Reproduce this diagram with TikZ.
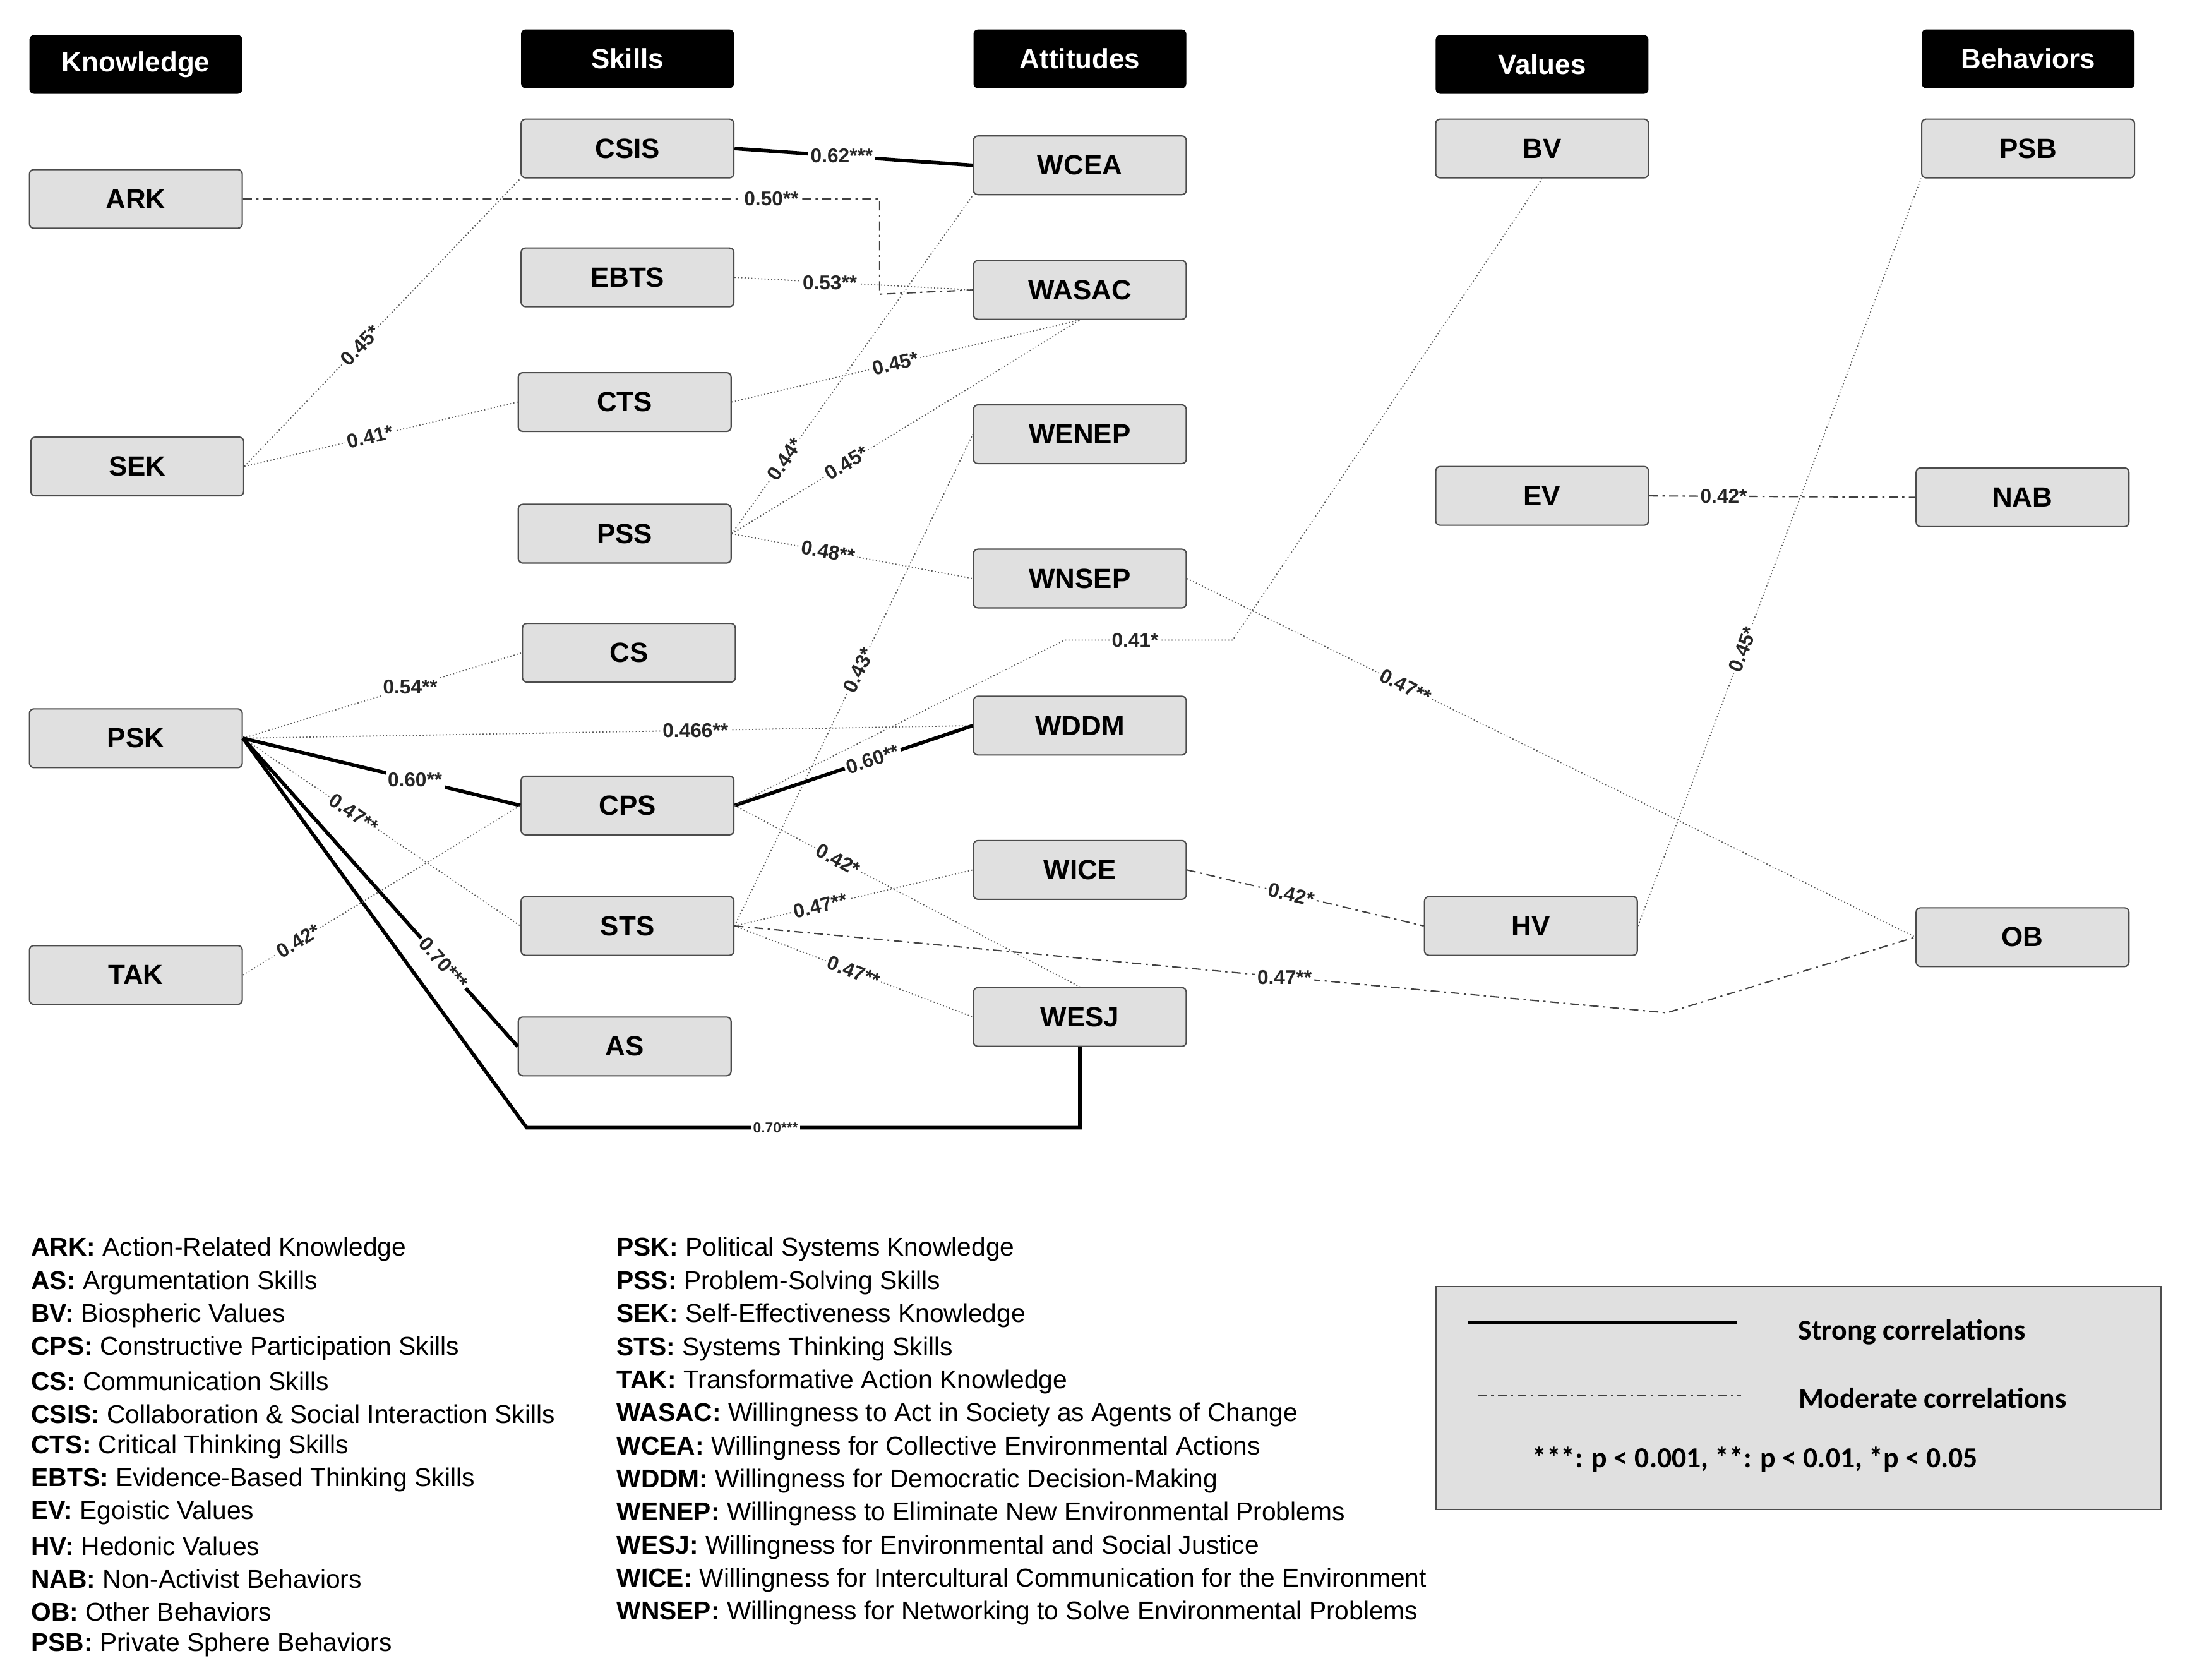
\documentclass[tikz,border=0pt]{standalone}
\usepackage{fontspec}
\setmainfont{Liberation Sans}
\newfontfamily\legfont{Carlito}
\begin{document}
\begin{tikzpicture}[x=0.2218mm,y=-0.2218mm,
 box/.style={draw=black!70,fill=black!12,rounded corners=2pt,minimum width=33.7mm,minimum height=9.3mm,font=\fontsize{12.5}{14}\selectfont\bfseries,line width=0.6pt},
 hdr/.style={fill=black,text=white,rounded corners=2pt,minimum width=33.7mm,minimum height=9.3mm,font=\fontsize{12.5}{14}\selectfont\bfseries},
 strong/.style={line width=1.6pt},
 dot/.style={densely dotted,line width=0.5pt,black!65},
 dd/.style={dash pattern=on 4pt off 2pt on 1pt off 2pt,line width=0.6pt,black!75},
 lab/.style={font=\fontsize{9}{10}\selectfont\bfseries,fill=white,inner sep=1pt,text=black!85},
 lg/.style={anchor=west,font=\fontsize{11.6}{13}\selectfont,inner sep=0pt}]
\useasboundingbox (0,0) rectangle (1560,1199);
% headers
\node[hdr] (hK) at (97,46) {Knowledge};
\node[hdr] (hS) at (448,42) {Skills};
\node[hdr] (hA) at (771,42) {Attitudes};
\node[hdr] (hV) at (1101,46) {Values};
\node[hdr] (hB) at (1448,42) {Behaviors};
% boxes
\node[box] (ARK) at (97,142) {ARK};
\node[box] (SEK) at (98,333) {SEK};
\node[box] (PSK) at (97,527) {PSK};
\node[box] (TAK) at (97,696) {TAK};
\node[box] (CSIS) at (448,106) {CSIS};
\node[box] (EBTS) at (448,198) {EBTS};
\node[box] (CTS) at (446,287) {CTS};
\node[box] (PSS) at (446,381) {PSS};
\node[box] (CS) at (449,466) {CS};
\node[box] (CPS) at (448,575) {CPS};
\node[box] (STS) at (448,661) {STS};
\node[box] (AS) at (446,747) {AS};
\node[box] (WCEA) at (771,118) {WCEA};
\node[box] (WASAC) at (771,207) {WASAC};
\node[box] (WENEP) at (771,310) {WENEP};
\node[box] (WNSEP) at (771,413) {WNSEP};
\node[box] (WDDM) at (771,518) {WDDM};
\node[box] (WICE) at (771,621) {WICE};
\node[box] (WESJ) at (771,726) {WESJ};
\node[box] (BV) at (1101,106) {BV};
\node[box] (EV) at (1101,354) {EV};
\node[box] (HV) at (1093,661) {HV};
\node[box] (PSB) at (1448,106) {PSB};
\node[box] (NAB) at (1444,355) {NAB};
\node[box] (OB) at (1444,669) {OB};
\coordinate (a1) at (628,142); \coordinate (a2) at (628,210);
\coordinate (b1) at (760,457); \coordinate (b2) at (880,457);
\coordinate (c1) at (376,805); \coordinate (c2) at (771,805);
\coordinate (d1) at (1190,723);
% connectors
\draw[strong] (CSIS.east) -- node[lab,pos=0.45]{0.62***} (WCEA.west);
\draw[dd] (ARK.east) -- node[lab,pos=0.83]{0.50**} (a1) -- (a2) -- (WASAC.west);
\draw[dot] (EBTS.east) -- node[lab,pos=0.4]{0.53**} (WASAC.west);
\draw[dot] (SEK.east) -- node[lab,pos=0.42,sloped]{0.45*} (CSIS.south west);
\draw[dot] (SEK.east) -- node[lab,pos=0.46,sloped]{0.41*} (CTS.west);
\draw[dot] (CTS.east) -- node[lab,pos=0.47,sloped]{0.45*} (WASAC.south);
\draw[dot] (PSS.east) -- node[lab,pos=0.22,sloped]{0.44*} (WCEA.south west);
\draw[dot] (PSS.east) -- node[lab,pos=0.33,sloped]{0.45*} (WASAC.south);
\draw[dot] (PSS.east) -- node[lab,pos=0.4,sloped]{0.48**} (WNSEP.west);
\draw[dot] (STS.east) -- node[lab,pos=0.52,sloped]{0.43*} (WENEP.west);
\draw[dot] (PSK.east) -- node[lab,pos=0.6]{0.54**} (CS.west);
\draw[dot] (PSK.east) -- node[lab,pos=0.62]{0.466**} (WDDM.west);
\draw[strong] (PSK.east) -- node[lab,pos=0.62]{0.60**} (CPS.west);
\draw[dot] (PSK.east) -- node[lab,pos=0.4,sloped]{0.47**} (STS.west);
\draw[strong] (PSK.east) -- node[lab,pos=0.73,sloped]{0.70***} (AS.west);
\draw[strong] (PSK.east) -- (c1) -- node[lab,pos=0.45,font=\fontsize{6.5}{8}\selectfont\bfseries]{0.70***} (c2) -- (WESJ.south);
\draw[dot] (TAK.east) -- node[lab,pos=0.2,sloped]{0.42*} (CPS.west);
\draw[strong] (CPS.east) -- node[lab,pos=0.58,sloped]{0.60**} (WDDM.west);
\draw[dot] (CPS.east) -- (b1) -- node[lab,pos=0.42]{0.41*} (b2) -- (BV.south);
\draw[dot] (CPS.east) -- node[lab,pos=0.3,sloped]{0.42*} (WESJ.north);
\draw[dot] (STS.east) -- node[lab,pos=0.36,sloped]{0.47**} (WICE.west);
\draw[dot] (STS.east) -- node[lab,pos=0.5,sloped]{0.47**} (WESJ.west);
\draw[dd] (STS.east) -- node[lab,pos=0.59]{0.47**} (d1) -- (OB.west);
\draw[dot] (WNSEP.east) -- node[lab,pos=0.3,sloped]{0.47**} (OB.west);
\draw[dd] (WICE.east) -- node[lab,pos=0.44,sloped]{0.42*} (HV.west);
\draw[dot] (HV.east) -- node[lab,pos=0.37,sloped]{0.45*} (PSB.south west);
\draw[dd] (EV.east) -- node[lab,pos=0.28]{0.42*} (NAB.west);
% legend columns
\foreach \k/\t [count=\i from 0] in {ARK/Action-Related Knowledge,AS/Argumentation Skills,BV/Biospheric Values,CPS/Constructive Participation Skills,CS/Communication Skills,CSIS/Collaboration \& Social Interaction Skills,CTS/Critical Thinking Skills,EBTS/Evidence-Based Thinking Skills,EV/Egoistic Values,HV/Hedonic Values,NAB/Non-Activist Behaviors,OB/Other Behaviors,PSB/Private Sphere Behaviors}
 \node[lg] (L\i) at (22,892+23.5*\i) {\textbf{\k:} \t};
\foreach \k/\t [count=\i from 0] in {PSK/Political Systems Knowledge,PSS/Problem-Solving Skills,SEK/Self-Effectiveness Knowledge,STS/Systems Thinking Skills,TAK/Transformative Action Knowledge,WASAC/Willingness to Act in Society as Agents of Change,WCEA/Willingness for Collective Environmental Actions,WDDM/Willingness for Democratic Decision-Making,WENEP/Willingness to Eliminate New Environmental Problems,WESJ/Willingness for Environmental and Social Justice,WICE/Willingness for Intercultural Communication for the Environment,WNSEP/Willingness for Networking to Solve Environmental Problems}
 \node[lg] (R\i) at (440,892+23.6*\i) {\textbf{\k:} \t};
% key box
\node[draw=black!70,fill=black!12,minimum width=114.8mm,minimum height=35.3mm,anchor=north west,line width=0.6pt] (key) at (1025,918) {};
\coordinate (s1) at (1048,944); \coordinate (s2) at (1240,944);
\coordinate (m1) at (1055,996); \coordinate (m2) at (1243,996);
\draw[line width=1.3pt] (s1) -- (s2);
\draw[dd] (m1) -- (m2);
\node[font=\legfont\fontsize{13}{15}\selectfont\bfseries] (k1) at (1365,951) {Strong correlations};
\node[font=\legfont\fontsize{13}{15}\selectfont\bfseries] (k2) at (1380,998) {Moderate correlations};
\node[font=\legfont\fontsize{13}{15}\selectfont\bfseries] (k3) at (1253,1042) {***: p < 0.001, **: p < 0.01, *p < 0.05};
\end{tikzpicture}
\end{document}
